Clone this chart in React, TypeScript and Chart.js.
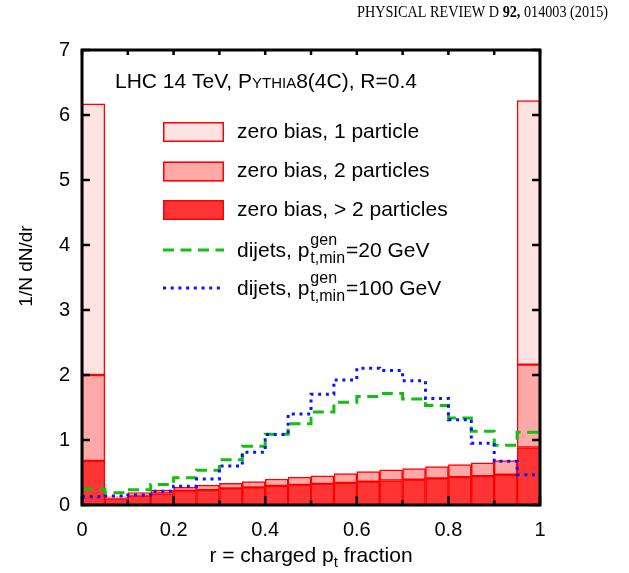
import React, { useEffect, useRef } from "react";
import { Chart, registerables } from "chart.js";

Chart.register(...registerables);

// Bin layout of the charged-pt-fraction histograms (20 bins on [0,1])
const binEdges = [0, 0.05, 0.1, 0.15, 0.2, 0.25, 0.3, 0.35, 0.4, 0.45, 0.5, 0.55, 0.6, 0.65, 0.7, 0.75, 0.8, 0.85, 0.9, 0.95, 1.0];
const binCenters = [0.025, 0.075, 0.125, 0.175, 0.225, 0.275, 0.325, 0.375, 0.425, 0.475, 0.525, 0.575, 0.625, 0.675, 0.725, 0.775, 0.825, 0.875, 0.925, 0.975];

// Zero-bias contributions (stacked): > 2 particles, 2 particles, 1 particle
const zeroBiasMoreThanTwo = [0.68, 0.1, 0.146, 0.177, 0.22, 0.23, 0.255, 0.27, 0.295, 0.31, 0.325, 0.34, 0.36, 0.377, 0.39, 0.41, 0.43, 0.445, 0.465, 0.885];
const zeroBiasTwo = [1.32, 0.026, 0.044, 0.053, 0.05, 0.075, 0.08, 0.09, 0.105, 0.12, 0.125, 0.145, 0.155, 0.163, 0.17, 0.18, 0.19, 0.205, 0.22, 1.275];
const zeroBiasOne = [4.17, 0, 0, 0, 0, 0, 0, 0, 0, 0, 0, 0, 0, 0, 0, 0, 0, 0, 0, 4.06];

// Dijet samples
const dijets20 = [0.245, 0.19, 0.235, 0.315, 0.42, 0.535, 0.695, 0.905, 1.09, 1.25, 1.43, 1.58, 1.67, 1.715, 1.63, 1.53, 1.34, 1.135, 0.92, 1.12];
const dijets100 = [0.126, 0.14, 0.155, 0.21, 0.29, 0.4, 0.6, 0.81, 1.085, 1.4, 1.705, 1.925, 2.105, 2.07, 1.91, 1.64, 1.31, 0.95, 0.675, 0.465];

// Axis ticks
const xTickValues = [0, 0.2, 0.4, 0.6, 0.8, 1];
const xTickLabels = ["0", "0.2", "0.4", "0.6", "0.8", "1"];
const xMinorTicks = [0.1, 0.3, 0.5, 0.7, 0.9];
const yTickValues = [0, 1, 2, 3, 4, 5, 6, 7];
const yTickLabels = ["0", "1", "2", "3", "4", "5", "6", "7"];

const SANS = '"Liberation Sans", Arial, Helvetica, sans-serif';
const SERIF = '"Liberation Serif", "Times New Roman", serif';

const LIGHT = "#ffe3e3";
const MEDIUM = "#ffa8a8";
const DARK = "#ff3535";
const EDGE = "#ff0000";
const GREEN = "#14bf14";
const BLUE = "#0a14ff";

const stepPoints = (vals: number[]) =>
  binEdges.map((e, i) => ({ x: e, y: vals[Math.min(i, vals.length - 1)] }));
const barPoints = (vals: number[]) => binCenters.map((c, i) => ({ x: c, y: vals[i] }));

type Run = { text: string; font: string; dy?: number };

function drawRuns(ctx: CanvasRenderingContext2D, x: number, y: number, runs: Run[]) {
  let cx = x;
  for (const r of runs) {
    ctx.font = r.font;
    ctx.fillText(r.text, cx, y + (r.dy || 0));
    cx += ctx.measureText(r.text).width;
  }
  return cx;
}

function drawPtLabel(ctx: CanvasRenderingContext2D, x: number, y: number, tail: string) {
  const main = `21px ${SANS}`;
  const small = `16px ${SANS}`;
  ctx.font = main;
  ctx.fillText("dijets, p", x, y);
  const x1 = x + ctx.measureText("dijets, p").width + 1;
  ctx.font = small;
  ctx.fillText("gen", x1, y - 10);
  ctx.fillText("t,min", x1, y + 8);
  const w = Math.max(ctx.measureText("gen").width, ctx.measureText("t,min").width);
  ctx.font = main;
  ctx.fillText(tail, x1 + w + 1, y);
}

const decorations = {
  id: "decorations",
  afterDatasetsDraw(chart: any) {
    const { ctx, chartArea } = chart;
    const xs = chart.scales.x;
    const ys = chart.scales.y;
    const { left, right, top, bottom } = chartArea;
    ctx.save();
    ctx.strokeStyle = "#000";
    ctx.lineWidth = 2.5;
    ctx.beginPath();
    // bottom/top ticks
    for (const v of xTickValues) {
      const px = xs.getPixelForValue(v);
      ctx.moveTo(px, bottom);
      ctx.lineTo(px, bottom - 9);
      ctx.moveTo(px, top);
      ctx.lineTo(px, top + 5);
    }
    for (const v of xMinorTicks) {
      const px = xs.getPixelForValue(v);
      ctx.moveTo(px, bottom);
      ctx.lineTo(px, bottom - 5);
      ctx.moveTo(px, top);
      ctx.lineTo(px, top + 5);
    }
    // left/right ticks
    for (const v of yTickValues) {
      const py = ys.getPixelForValue(v);
      ctx.moveTo(left, py);
      ctx.lineTo(left + 8, py);
      ctx.moveTo(right, py);
      ctx.lineTo(right - 8, py);
    }
    ctx.stroke();
    ctx.lineWidth = 3;
    ctx.strokeRect(left, top, right - left, bottom - top);
    ctx.restore();
  },
  afterDraw(chart: any) {
    const { ctx } = chart;
    ctx.save();
    ctx.fillStyle = "#000";
    ctx.textBaseline = "middle";
    ctx.textAlign = "left";

    // journal header, set in a narrow serif running head
    const hdr: Run[] = [
      { text: "PHYSICAL REVIEW D ", font: `17px ${SERIF}` },
      { text: "92,", font: `bold 17px ${SERIF}` },
      { text: " 014003 (2015)", font: `17px ${SERIF}` },
    ];
    let hw = 0;
    for (const r of hdr) {
      ctx.font = r.font;
      hw += ctx.measureText(r.text).width;
    }
    const targetW = 251;
    const k = targetW / hw;
    ctx.save();
    ctx.translate(608 - targetW, 13);
    ctx.scale(k, 1);
    drawRuns(ctx, 0, 0, hdr);
    ctx.restore();

    // plot caption
    drawRuns(ctx, 115, 82, [
      { text: "LHC 14 TeV, P", font: `21px ${SANS}` },
      { text: "YTHIA", font: `15px ${SANS}`, dy: 1.5 },
      { text: "8(4C), R=0.4", font: `21px ${SANS}` },
    ]);

    // legend
    const sx = 163;
    const sw = 61;
    const tx = 237;
    const boxes = [
      { y: 132, fill: LIGHT, text: "zero bias, 1 particle" },
      { y: 171.5, fill: MEDIUM, text: "zero bias, 2 particles" },
      { y: 210, fill: DARK, text: "zero bias, > 2 particles" },
    ];
    for (const b of boxes) {
      ctx.fillStyle = b.fill;
      ctx.fillRect(sx, b.y - 10, sw, 20);
      ctx.strokeStyle = EDGE;
      ctx.lineWidth = 1.5;
      ctx.strokeRect(sx + 0.75, b.y - 10 + 0.75, sw - 1.5, 18.5);
      ctx.fillStyle = "#000";
      ctx.font = `21px ${SANS}`;
      ctx.fillText(b.text, tx, b.y);
    }
    ctx.lineWidth = 3;
    ctx.strokeStyle = GREEN;
    ctx.setLineDash([11, 6.5]);
    ctx.beginPath();
    ctx.moveTo(sx, 250);
    ctx.lineTo(sx + sw, 250);
    ctx.stroke();
    ctx.strokeStyle = BLUE;
    ctx.setLineDash([3, 4.7]);
    ctx.beginPath();
    ctx.moveTo(sx, 288);
    ctx.lineTo(sx + sw, 288);
    ctx.stroke();
    ctx.setLineDash([]);
    ctx.fillStyle = "#000";
    drawPtLabel(ctx, tx, 251, "=20 GeV");
    drawPtLabel(ctx, tx, 289, "=100 GeV");

    // axis titles
    ctx.save();
    ctx.translate(27, 266);
    ctx.rotate(-Math.PI / 2);
    ctx.textAlign = "center";
    ctx.font = `19px ${SANS}`;
    ctx.fillText("1/N dN/dr", 0, 0);
    ctx.restore();

    ctx.textAlign = "left";
    const pre = "r = charged p";
    const post = " fraction";
    ctx.font = `21px ${SANS}`;
    const wPre = ctx.measureText(pre).width;
    const wPost = ctx.measureText(post).width;
    ctx.font = `15px ${SANS}`;
    const wSub = ctx.measureText("t").width;
    const x0 = 311 - (wPre + wSub + wPost) / 2;
    ctx.font = `21px ${SANS}`;
    ctx.fillText(pre, x0, 556);
    ctx.font = `15px ${SANS}`;
    ctx.fillText("t", x0 + wPre, 563);
    ctx.font = `21px ${SANS}`;
    ctx.fillText(post, x0 + wPre + wSub, 556);
    ctx.restore();
  },
};

export default function App() {
  const ref = useRef<HTMLCanvasElement | null>(null);

  useEffect(() => {
    if (!ref.current) return;
    const barStyle = {
      type: "bar" as const,
      yAxisID: "y",
      xAxisID: "x",
      borderColor: EDGE,
      borderWidth: 1.5,
      borderSkipped: false,
      barPercentage: 1,
      categoryPercentage: 1,
      order: 2,
    };
    const chart = new Chart(ref.current, {
      type: "bar",
      data: {
        datasets: [
          { ...barStyle, label: "zero bias, > 2 particles", data: barPoints(zeroBiasMoreThanTwo), backgroundColor: DARK },
          { ...barStyle, label: "zero bias, 2 particles", data: barPoints(zeroBiasTwo), backgroundColor: MEDIUM },
          { ...barStyle, label: "zero bias, 1 particle", data: barPoints(zeroBiasOne), backgroundColor: LIGHT },
          {
            type: "line",
            label: "dijets 20 GeV",
            data: stepPoints(dijets20),
            yAxisID: "yLines",
            xAxisID: "x",
            stepped: "before",
            borderColor: GREEN,
            borderWidth: 3,
            borderDash: [11, 6.5],
            pointRadius: 0,
            fill: false,
            order: 1,
          } as any,
          {
            type: "line",
            label: "dijets 100 GeV",
            data: stepPoints(dijets100),
            yAxisID: "yLines",
            xAxisID: "x",
            stepped: "before",
            borderColor: BLUE,
            borderWidth: 3,
            borderDash: [3, 4.7],
            pointRadius: 0,
            fill: false,
            order: 0,
          } as any,
        ],
      },
      options: {
        responsive: false,
        animation: false,
        devicePixelRatio: 1,
        layout: { padding: { top: 50, right: 89, left: 0, bottom: 0 } },
        plugins: { legend: { display: false }, tooltip: { enabled: false } },
        scales: {
          x: {
            type: "linear",
            min: 0,
            max: 1,
            stacked: true,
            offset: false,
            grid: { display: false, drawTicks: false },
            border: { display: false },
            afterBuildTicks: (s: any) => {
              s.ticks = xTickValues.map((v) => ({ value: v }));
            },
            afterFit: (s: any) => {
              s.height = 68;
            },
            ticks: {
              padding: 13,
              color: "#000",
              maxRotation: 0,
              autoSkip: false,
              font: { family: SANS, size: 20 },
              callback: (v: any) => xTickLabels[xTickValues.indexOf(Number(v))] ?? "",
            },
          },
          y: {
            type: "linear",
            min: 0,
            max: 7,
            stacked: true,
            grid: { display: false, drawTicks: false },
            border: { display: false },
            afterBuildTicks: (s: any) => {
              s.ticks = yTickValues.map((v) => ({ value: v }));
            },
            afterFit: (s: any) => {
              s.width = 82;
            },
            ticks: {
              padding: 12,
              color: "#000",
              font: { family: SANS, size: 20 },
              callback: (v: any) => yTickLabels[yTickValues.indexOf(Number(v))] ?? "",
            },
          },
          yLines: {
            type: "linear",
            min: 0,
            max: 7,
            display: false,
            stacked: false,
          },
        },
      } as any,
      plugins: [decorations],
    });
    return () => chart.destroy();
  }, []);

  return (
    <div style={{ position: "absolute", left: 0, top: 0, width: 629, height: 573, background: "#fff" }}>
      <canvas ref={ref} width={629} height={573} />
    </div>
  );
}
